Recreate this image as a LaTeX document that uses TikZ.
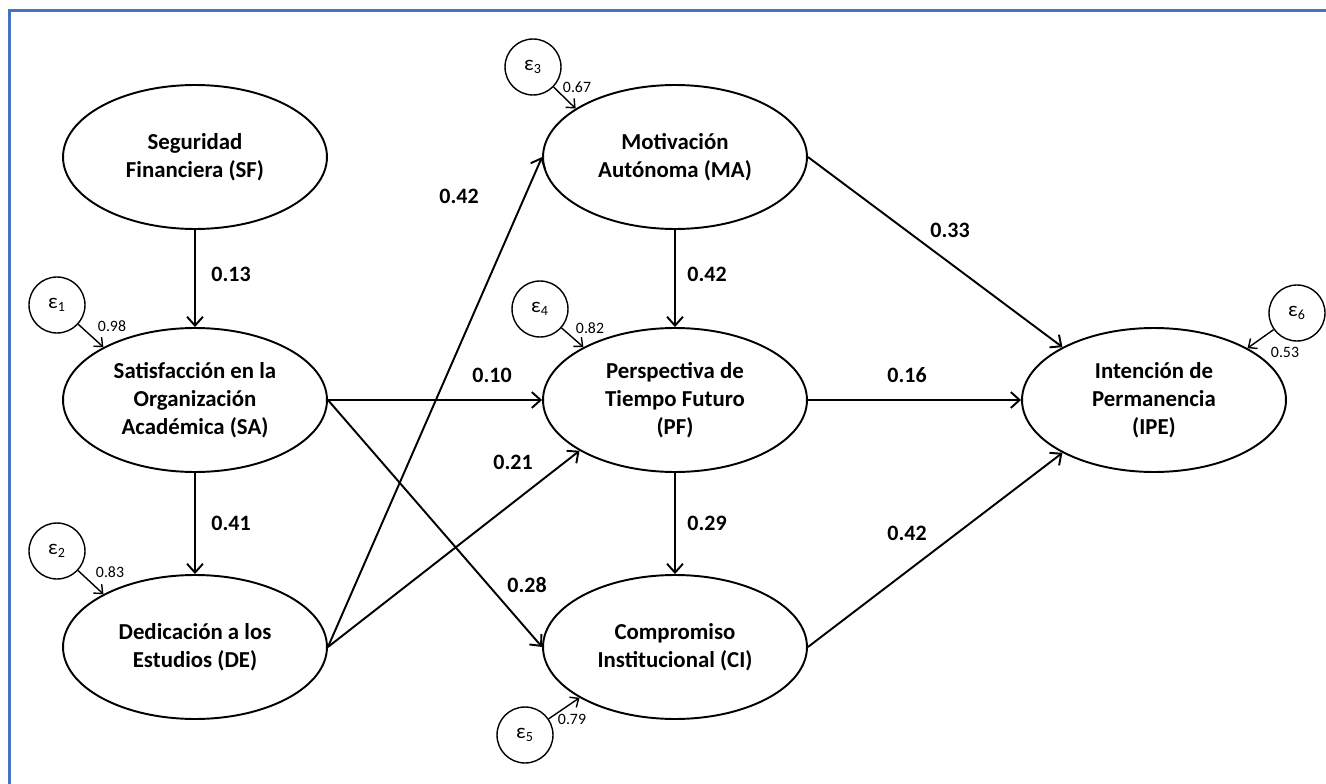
\documentclass[tikz,border=0pt]{standalone}
\usepackage{fontspec}
\setmainfont{Carlito}
\usetikzlibrary{arrows.meta,shapes.geometric}
\definecolor{frameblue}{HTML}{4472C4}
\begin{document}
\begin{tikzpicture}[x=0.02cm,y=-0.02cm,
  lat/.style={ellipse,draw,line width=1.1pt,minimum width=5.28cm,minimum height=2.88cm,inner sep=0pt,align=center,font=\bfseries\fontsize{13}{16}\selectfont},
  err/.style={circle,draw,line width=0.8pt,minimum size=1.12cm,inner sep=0pt,font=\fontsize{12}{14}\selectfont},
  pth/.style={line width=1.1pt,-{Straight Barb[length=5pt,width=9pt]}},
  errarr/.style={line width=0.8pt,-{Straight Barb[length=4pt,width=7pt]}},
  coef/.style={font=\bfseries\fontsize{12.5}{14}\selectfont,inner sep=0pt},
  var/.style={font=\fontsize{9}{10}\selectfont,inner sep=0pt},
]
\useasboundingbox (0,0) rectangle (1326,784);
\draw[frameblue,line width=1.2pt] (9.5,784) -- (9.5,10.5) -- (1326,10.5);

\node[lat] (SF) at (195,157) {Seguridad\\Financiera (SF)};
\node[lat] (SA) at (195,400) {Satisfacción en la\\Organización\\Académica (SA)};
\node[lat] (DE) at (195,647) {Dedicación a los\\Estudios (DE)};
\node[lat] (MA) at (675,157) {Motivación\\Autónoma (MA)};
\node[lat] (PF) at (675,400) {Perspectiva de\\Tiempo Futuro\\(PF)};
\node[lat] (CI) at (675,647) {Compromiso\\Institucional (CI)};
\node[lat] (IPE) at (1154,400) {Intención de\\Permanencia\\(IPE)};

\node[err] (e1) at (57,305) {ε\textsubscript{1}};
\node[err] (e2) at (57,551) {ε\textsubscript{2}};
\node[err] (e3) at (533,67) {ε\textsubscript{3}};
\node[err] (e4) at (540,309) {ε\textsubscript{4}};
\node[err] (e5) at (525,735) {ε\textsubscript{5}};
\node[err] (e6) at (1297,313) {ε\textsubscript{6}};

\draw[errarr] (e1) -- (SA.150);
\draw[errarr] (e2) -- (DE.150);
\draw[errarr] (e3) -- (MA.154);
\draw[errarr] (e4) -- (PF.150);
\draw[errarr] (e5) -- (CI.208);
\draw[errarr] (e6) -- (IPE.29);

\node[var] (v1) at (112,326) {0.98};
\node[var] (v2) at (110,572) {0.83};
\node[var] (v3) at (577,87) {0.67};
\node[var] (v4) at (590,328) {0.82};
\node[var] (v5) at (572,719) {0.79};
\node[var] (v6) at (1285,352) {0.53};

\draw[pth] (SF) -- (SA);
\draw[pth] (SA) -- (DE);
\draw[pth] (MA) -- (PF);
\draw[pth] (PF) -- (CI);
\draw[pth] (DE.east) -- (MA.west);
\draw[pth] (DE.east) -- (PF.208);
\draw[pth] (SA.east) -- (PF.west);
\draw[pth] (SA.east) -- (CI.west);
\draw[pth] (MA.east) -- (IPE.150);
\draw[pth] (PF.east) -- (IPE.west);
\draw[pth] (CI.east) -- (IPE.210);

\node[coef] (c1) at (231,274) {0.13};
\node[coef] (c2) at (231,523) {0.41};
\node[coef] (c3) at (707,274) {0.42};
\node[coef] (c4) at (707,523) {0.29};
\node[coef] (c5) at (459,196) {0.42};
\node[coef] (c6) at (492,375) {0.10};
\node[coef] (c7) at (513,462) {0.21};
\node[coef] (c8) at (527,585) {0.28};
\node[coef] (c9) at (950,230) {0.33};
\node[coef] (c10) at (907,375) {0.16};
\node[coef] (c11) at (907,533) {0.42};
\end{tikzpicture}
\end{document}
